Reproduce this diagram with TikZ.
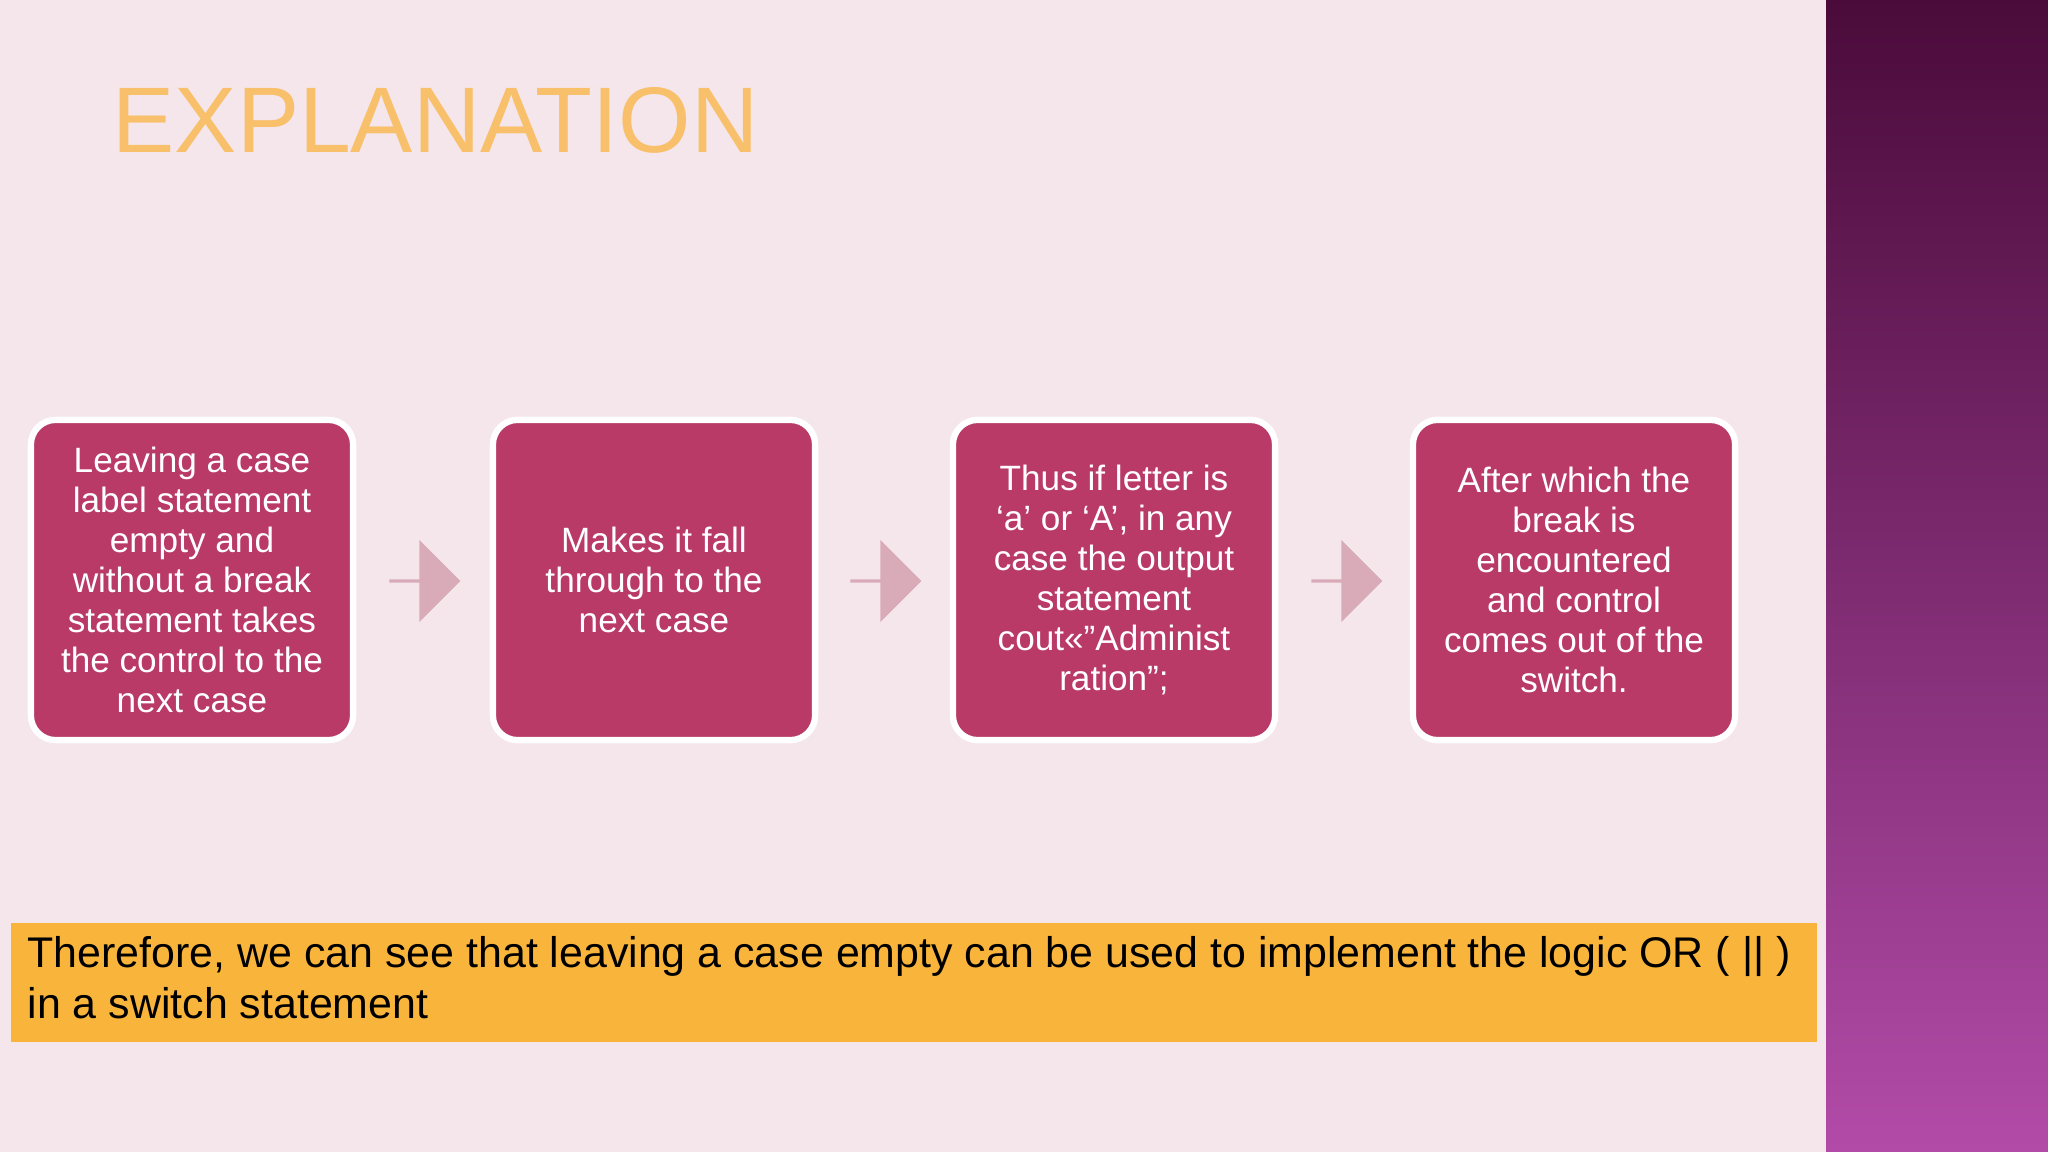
\documentclass[tikz,border=0pt]{standalone}
\usepackage{fontspec}
\setmainfont{Liberation Sans}
\usetikzlibrary{shapes.arrows}
\definecolor{bg}{HTML}{F5E6EC}
\definecolor{boxc}{HTML}{B93A67}
\definecolor{arrc}{HTML}{D9ABB9}
\definecolor{barc}{HTML}{F9B53B}
\definecolor{ptop}{HTML}{4A0B3A}
\definecolor{pbot}{HTML}{B24BA8}
\definecolor{ttl}{HTML}{F8C06A}
\tikzset{
  stepbox/.style={draw=white, line width=1.8pt, fill=boxc, rounded corners=7pt,
    minimum width=3.22cm, minimum height=3.2cm, text=white, align=center,
    font=\fontsize{10}{11.4}\selectfont, inner sep=0pt},
  blockarrow/.style={single arrow, fill=arrc, draw=none, minimum height=0.71cm,
    minimum width=0.82cm, single arrow head extend=0.17cm, single arrow head indent=0pt, inner sep=0pt}
}
\begin{document}
\begin{tikzpicture}[x=0.01cm,y=-0.01cm]
\useasboundingbox (0,0) rectangle (2048,1152);
\fill[bg] (0,0) rectangle (2048,1152);
\shade[top color=ptop, bottom color=pbot] (1826,0) rectangle (2048,1152);
\node[anchor=west, inner sep=0pt, text=ttl, font=\fontsize{26.5}{30}\selectfont] (title) at (112,120) {EXPLANATION};
\node[stepbox] (b1) at (192,580) {Leaving a case\\label statement\\empty and\\without a break\\statement takes\\the control to the\\next case};
\node[stepbox] (b2) at (654,580) {Makes it fall\\through to the\\next case};
\node[stepbox] (b3) at (1114,580) {Thus if letter is\\‘a’ or ‘A’, in any\\case the output\\statement\\cout<<”Administ\\ration”;};
\node[stepbox] (b4) at (1574,580) {After which the\\break is\\encountered\\and control\\comes out of the\\switch.};
\node[blockarrow] (a1) at (424,581) {};
\node[blockarrow] (a2) at (885,581) {};
\node[blockarrow] (a3) at (1346,581) {};
\node[fill=barc, minimum width=18.05cm, minimum height=1.19cm, anchor=north west, inner sep=0pt] (bar) at (10,922) {};
\node[anchor=north west, align=left, inner sep=0pt, font=\fontsize{12.2}{14.5}\selectfont] (bt) at (27,936)
  {Therefore, we can see that leaving a case empty can be used to implement the logic OR ( || )\\in a switch statement};
\end{tikzpicture}
\end{document}
